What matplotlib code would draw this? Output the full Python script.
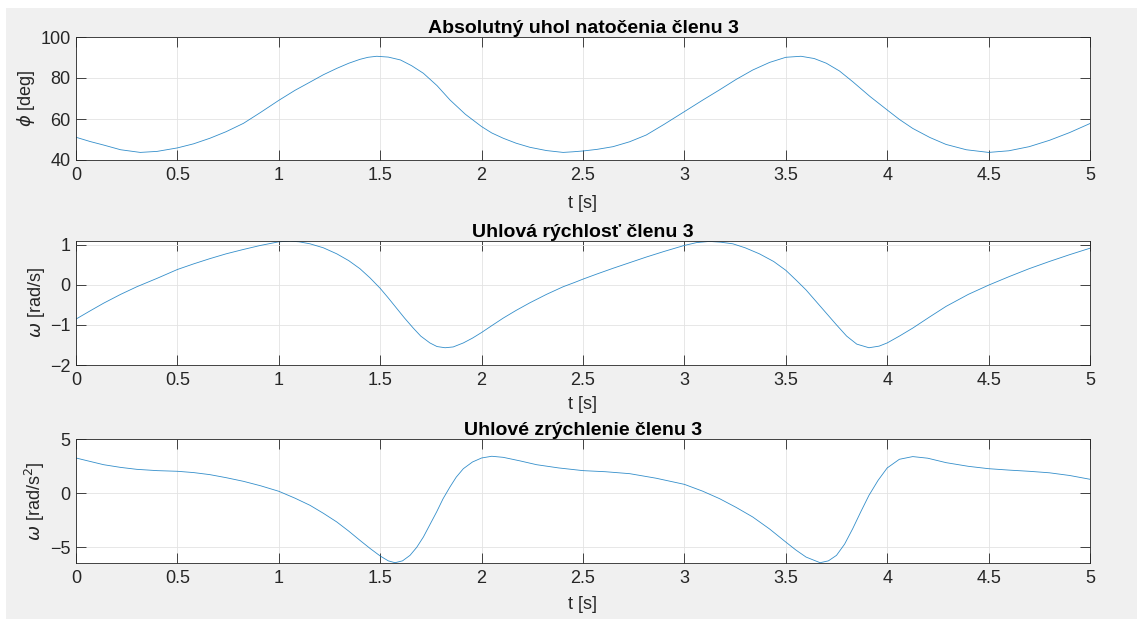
import matplotlib
matplotlib.use('Agg')
import matplotlib.pyplot as plt
from matplotlib.patches import Rectangle

plt.rcParams['font.family'] = ['Liberation Sans', 'DejaVu Sans']
plt.rcParams['mathtext.fontset'] = 'dejavusans'

# absolutny uhol natocenia (deg)
t_phi = [0.00, 0.07, 0.136, 0.22, 0.317, 0.40, 0.50, 0.58, 0.66, 0.74, 0.826, 0.91, 1.00, 1.08,
         1.154, 1.22, 1.286, 1.345, 1.40, 1.44, 1.483, 1.54, 1.60, 1.655, 1.713, 1.78, 1.844,
         1.92, 2.00, 2.05, 2.107, 2.17, 2.238, 2.32, 2.402, 2.45, 2.50, 2.57, 2.648, 2.73, 2.812,
         2.90, 3.00, 3.09, 3.173, 3.255, 3.337, 3.42, 3.50, 3.575, 3.64, 3.70, 3.765, 3.83,
         3.915, 4.00, 4.06, 4.126, 4.21, 4.29, 4.39, 4.50, 4.60, 4.70, 4.80, 4.90, 5.00]
phi = [51.1, 49.0, 47.3, 45.0, 43.7, 44.2, 45.9, 47.9, 50.6, 53.8, 57.9, 63.2, 69.1, 74.0,
       78.0, 81.6, 84.7, 87.2, 89.1, 90.1, 90.6, 90.2, 88.8, 86.0, 82.3, 76.3, 69.3,
       62.3, 56.3, 53.2, 50.6, 48.2, 46.2, 44.6, 43.7, 44.0, 44.4, 45.2, 46.5, 48.9, 52.2,
       57.4, 63.6, 69.2, 74.2, 79.3, 83.9, 87.6, 90.1, 90.6, 89.5, 87.2, 83.4, 78.2,
       71.0, 64.4, 59.8, 55.4, 51.0, 47.6, 45.0, 43.7, 44.5, 46.5, 49.6, 53.4, 57.8]

# uhlova rychlost (rad/s)
t_om = [0.00, 0.07, 0.136, 0.22, 0.30, 0.40, 0.50, 0.58, 0.66, 0.74, 0.826, 0.91, 1.00, 1.056,
        1.10, 1.154, 1.22, 1.286, 1.345, 1.40, 1.45, 1.50, 1.54, 1.58, 1.62, 1.663, 1.70,
        1.745, 1.78, 1.82, 1.86, 1.91, 1.955, 2.00, 2.05, 2.107, 2.17, 2.238, 2.32, 2.402,
        2.46, 2.50, 2.57, 2.648, 2.73, 2.812, 2.90, 3.00, 3.06, 3.124, 3.18, 3.239, 3.30,
        3.37, 3.44, 3.50, 3.55, 3.60, 3.65, 3.70, 3.75, 3.80, 3.85, 3.91, 3.96, 4.00, 4.06,
        4.126, 4.21, 4.29, 4.40, 4.50, 4.60, 4.70, 4.80, 4.90, 5.00]
om = [-0.856, -0.65, -0.46, -0.24, -0.05, 0.16, 0.38, 0.52, 0.65, 0.77, 0.88, 0.98, 1.07, 1.086,
      1.07, 1.02, 0.92, 0.77, 0.60, 0.40, 0.17, -0.09, -0.33, -0.58, -0.83, -1.08, -1.28,
      -1.45, -1.54, -1.57, -1.55, -1.45, -1.33, -1.19, -1.02, -0.83, -0.64, -0.45, -0.24, -0.05,
      0.06, 0.14, 0.27, 0.41, 0.55, 0.69, 0.83, 0.98, 1.05, 1.08, 1.06, 1.02, 0.92,
      0.77, 0.58, 0.36, 0.12, -0.13, -0.42, -0.71, -1.00, -1.28, -1.48, -1.57, -1.53, -1.45, -1.28,
      -1.08, -0.80, -0.54, -0.24, -0.01, 0.20, 0.40, 0.58, 0.75, 0.91]

# uhlove zrychlenie (rad/s^2)
t_al = [0.00, 0.07, 0.136, 0.22, 0.30, 0.40, 0.50, 0.58, 0.66, 0.74, 0.826, 0.91, 1.00, 1.08,
        1.154, 1.22, 1.286, 1.345, 1.40, 1.45, 1.50, 1.54, 1.573, 1.61, 1.647, 1.68, 1.713,
        1.745, 1.778, 1.81, 1.844, 1.875, 1.91, 1.955, 2.00, 2.05, 2.107, 2.19, 2.271, 2.38,
        2.50, 2.61, 2.73, 2.86, 3.00, 3.09, 3.173, 3.255, 3.337, 3.42, 3.50, 3.55, 3.60, 3.669,
        3.71, 3.75, 3.79, 3.83, 3.87, 3.91, 3.955, 4.00, 4.06, 4.126, 4.20, 4.29, 4.40, 4.50,
        4.60, 4.70, 4.80, 4.90, 5.00]
al = [3.27, 2.95, 2.65, 2.40, 2.22, 2.10, 2.04, 1.92, 1.73, 1.45, 1.11, 0.70, 0.19, -0.45,
      -1.11, -1.85, -2.65, -3.50, -4.35, -5.10, -5.80, -6.25, -6.42, -6.25, -5.74, -5.00, -4.04,
      -2.90, -1.73, -0.50, 0.59, 1.50, 2.28, 2.90, 3.27, 3.43, 3.33, 3.00, 2.65, 2.35,
      2.10, 2.00, 1.82, 1.40, 0.83, 0.20, -0.49, -1.30, -2.19, -3.30, -4.51, -5.25, -5.90, -6.42,
      -6.25, -5.74, -4.70, -3.27, -1.70, -0.19, 1.20, 2.35, 3.15, 3.40, 3.25, 2.84, 2.50, 2.28,
      2.15, 2.04, 1.90, 1.65, 1.30]

W, H = 1137, 619
fig = plt.figure(figsize=(W / 100, H / 100), dpi=100, facecolor='white')
fig.patches.append(Rectangle((6 / W, 0), 1, (H - 8) / H, transform=fig.transFigure,
                             facecolor='#f0f0f0', edgecolor='none', zorder=-10))

panels = [
    (t_phi, phi, (40, 100), [40, 60, 80, 100], 'Absolutný uhol natočenia členu 3',
     r'$\phi$ [deg]', 37, 160, -0.35),
    (t_om, om, (-2, 1.09), [-2, -1, 0, 1], 'Uhlová rýchlosť členu 3',
     r'$\omega$ [rad/s]', 241, 365, -0.32),
    (t_al, al, (-6.42, 5), [-5, 0, 5], 'Uhlové zrýchlenie členu 3',
     r'$\omega$ [rad/s$^2$]', 439.3, 562.7, -0.335),
]

dark = '#262626'
for tt, yy, ylim, yticks, title, ylabel, top, bot, xlab_y in panels:
    ax = fig.add_axes([76 / W, (H - bot) / H, (1090 - 76) / W, (bot - top) / H])
    ax.plot(tt, yy, color='#0072BD', lw=0.6, alpha=0.8)
    ax.set_xlim(0, 5)
    ax.set_ylim(*ylim)
    ax.set_xticks([0, 0.5, 1, 1.5, 2, 2.5, 3, 3.5, 4, 4.5, 5])
    ax.set_xticklabels(['0', '0.5', '1', '1.5', '2', '2.5', '3', '3.5', '4', '4.5', '5'])
    ax.set_yticks(yticks)
    ax.grid(True, color='#e3e3e3', lw=0.6)
    ax.set_axisbelow(True)
    ax.tick_params(direction='in', length=7.3, width=0.6, color=dark, labelcolor=dark,
                   labelsize=13, top=True, right=True)
    ax.tick_params(axis='x', pad=5)
    ax.tick_params(axis='y', pad=4)
    for s in ax.spines.values():
        s.set_color(dark)
        s.set_linewidth(0.6)
    ax.set_title(title, fontsize=14, fontweight='bold', color='black', pad=3)
    ax.set_xlabel('t [s]', fontsize=13, color=dark)
    ax.xaxis.set_label_coords(0.5, xlab_y)
    ax.xaxis.label.set_va('center')
    ax.set_ylabel(ylabel, fontsize=13, color=dark, labelpad=2)

fig.savefig('out.png', dpi=100, facecolor=fig.get_facecolor())
